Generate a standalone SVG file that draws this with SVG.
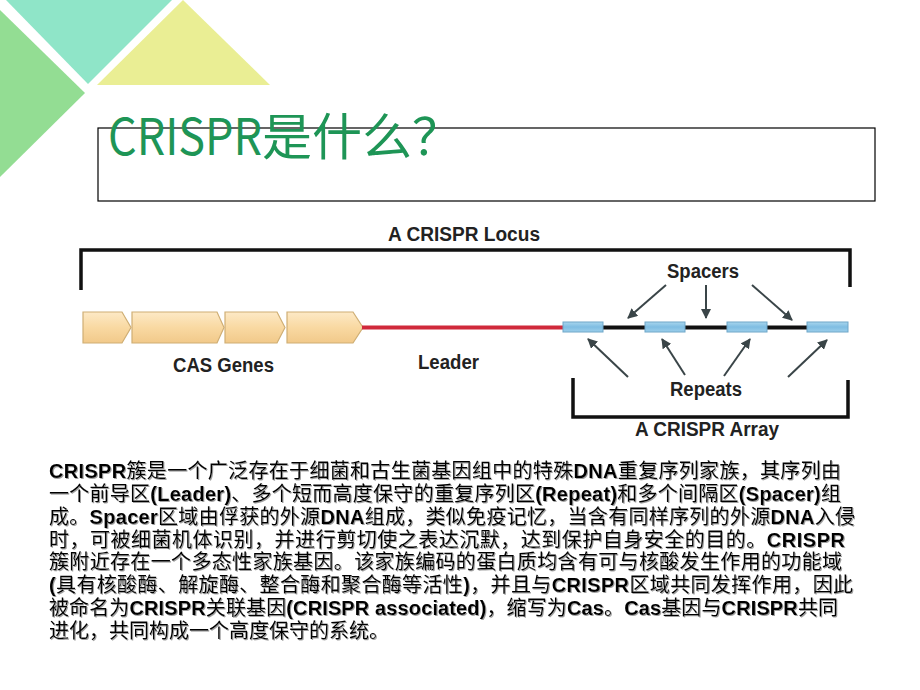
<svg xmlns="http://www.w3.org/2000/svg" width="920" height="690" viewBox="0 0 920 690">
<style>
.lbl{font-family:"Liberation Sans",Arial,sans-serif;font-weight:bold;font-size:19.5px;fill:#222;text-anchor:start}
.arr{stroke:#3a4548;stroke-width:2;fill:none;marker-end:url(#ah)}
.brk{stroke:#111;stroke-width:3.5;fill:none}
.gene{fill:url(#gg);stroke:#cfae74;stroke-width:1.2}
.rep{fill:url(#bg);stroke:#6ea6c8;stroke-width:1}
.body{font-family:"Noto Sans CJK SC","Liberation Sans",sans-serif;font-size:20px;fill:#000}
.b{font-family:"Liberation Sans",Arial,sans-serif;font-weight:bold}
</style>
<defs>
<linearGradient id="gg" x1="0" y1="0" x2="0" y2="1">
<stop offset="0" stop-color="#fde9c6"/><stop offset="0.5" stop-color="#f9d9a2"/><stop offset="1" stop-color="#f1c98a"/>
</linearGradient>
<linearGradient id="bg" x1="0" y1="0" x2="0" y2="1">
<stop offset="0" stop-color="#a8d6ee"/><stop offset="0.5" stop-color="#7fbde2"/><stop offset="1" stop-color="#9ccfeb"/>
</linearGradient>
<marker id="ah" viewBox="0 0 10 10" refX="9" refY="5" markerWidth="5" markerHeight="5" orient="auto" markerUnits="strokeWidth">
<path d="M0,0 L10,5 L0,10 z" fill="#3a4548"/>
</marker>
<filter id="sh" x="-2%" y="-10%" width="104%" height="130%">
<feDropShadow dx="1" dy="1" stdDeviation="0.4" flood-color="#888" flood-opacity="0.8"/>
</filter>
</defs>
<rect width="920" height="690" fill="#fff"/>
<g id="decor">
<polygon points="6,0 172,0 88,84" fill="#8fe5c8"/>
<polygon points="0,10 85,93 0,177" fill="#93dd93"/>
<polygon points="183,0 270,85 97,85" fill="#eaee94"/>
</g>
<g id="title">
<rect x="98" y="128" width="777" height="73" fill="none" stroke="#000" stroke-width="1.2"/>
<text x="108" y="155" font-family="'Noto Sans CJK SC',sans-serif" font-size="50" fill="#1e9556" textLength="154" lengthAdjust="spacingAndGlyphs">CRISPR</text>
<text x="262" y="155" font-family="'Noto Sans CJK SC',sans-serif" font-size="50" fill="#1e9556">是什么？</text>
</g>
<g id="locus">
<path class="brk" d="M81,290 V250 H850 V287"/>
<text class="lbl" x="388" y="241" font-size="18.5" textLength="152" lengthAdjust="spacingAndGlyphs">A CRISPR Locus</text>
</g>
<g id="cas-genes">
<polygon class="gene" points="83,312 122,312 131,327.5 122,343 83,343"/>
<polygon class="gene" points="132,312 217,312 224,327.5 217,343 132,343"/>
<polygon class="gene" points="225,312 277,312 285,327.5 277,343 225,343"/>
<polygon class="gene" points="287,312 353,312 363,327.5 353,343 287,343"/>
<text class="lbl" x="173" y="372" textLength="101" lengthAdjust="spacingAndGlyphs">CAS Genes</text>
</g>
<g id="leader">
<line x1="362" y1="327.5" x2="565" y2="327.5" stroke="#d0293b" stroke-width="4"/>
<text class="lbl" x="418" y="369" textLength="61" lengthAdjust="spacingAndGlyphs">Leader</text>
</g>
<g id="array">
<line x1="600" y1="327.5" x2="810" y2="327.5" stroke="#111" stroke-width="4"/>
<rect class="rep" x="563" y="322" width="40" height="10"/>
<rect class="rep" x="645" y="322" width="40" height="10"/>
<rect class="rep" x="727" y="322" width="40" height="10"/>
<rect class="rep" x="807" y="322" width="41" height="10"/>
<path class="brk" d="M573,378 V417 H848 V380"/>
<text class="lbl" x="635" y="436" textLength="144" lengthAdjust="spacingAndGlyphs">A CRISPR Array</text>
</g>
<g id="spacers">
<text class="lbl" x="667" y="278" textLength="72" lengthAdjust="spacingAndGlyphs">Spacers</text>
</g>
<g id="repeats">
<text class="lbl" x="670" y="396" textLength="72" lengthAdjust="spacingAndGlyphs">Repeats</text>
</g>
<g id="connectors">
<line class="arr" x1="666" y1="285" x2="628" y2="318"/>
<line class="arr" x1="706" y1="285" x2="706" y2="318"/>
<line class="arr" x1="752" y1="285" x2="792" y2="320"/>
<line class="arr" x1="628" y1="377" x2="588" y2="339"/>
<line class="arr" x1="685" y1="375" x2="662" y2="339"/>
<line class="arr" x1="724" y1="376" x2="750" y2="339"/>
<line class="arr" x1="788" y1="377" x2="827" y2="340"/>
</g>
<g id="paragraph" class="body" filter="url(#sh)">
<text x="49" y="478" textLength="792" lengthAdjust="spacing"><tspan class="b">CRISPR</tspan>簇是一个广泛存在于细菌和古生菌基因组中的特殊<tspan class="b">DNA</tspan>重复序列家族，其序列由</text>
<text x="49" y="501" textLength="792" lengthAdjust="spacing">一个前导区<tspan class="b">(Leader)</tspan>、多个短而高度保守的重复序列区<tspan class="b">(Repeat)</tspan>和多个间隔区<tspan class="b">(Spacer)</tspan>组</text>
<text x="49" y="524" textLength="806" lengthAdjust="spacing">成。<tspan class="b">Spacer</tspan>区域由俘获的外源<tspan class="b">DNA</tspan>组成，类似免疫记忆，当含有同样序列的外源<tspan class="b">DNA</tspan>入侵</text>
<text x="49" y="547" textLength="796" lengthAdjust="spacing">时，可被细菌机体识别，并进行剪切使之表达沉默，达到保护自身安全的目的。<tspan class="b">CRISPR</tspan></text>
<text x="49" y="569" textLength="793" lengthAdjust="spacing">簇附近存在一个多态性家族基因。该家族编码的蛋白质均含有可与核酸发生作用的功能域</text>
<text x="49" y="592" textLength="804" lengthAdjust="spacing"><tspan class="b">(</tspan>具有核酸酶、解旋酶、整合酶和聚合酶等活性<tspan class="b">)</tspan>，并且与<tspan class="b">CRISPR</tspan>区域共同发挥作用，因此</text>
<text x="49" y="615" textLength="789" lengthAdjust="spacing">被命名为<tspan class="b">CRISPR</tspan>关联基因<tspan class="b">(CRISPR associated)</tspan>，缩写为<tspan class="b">Cas</tspan>。<tspan class="b">Cas</tspan>基因与<tspan class="b">CRISPR</tspan>共同</text>
<text x="49" y="638">进化，共同构成一个高度保守的系统。</text>
</g>
</svg>
